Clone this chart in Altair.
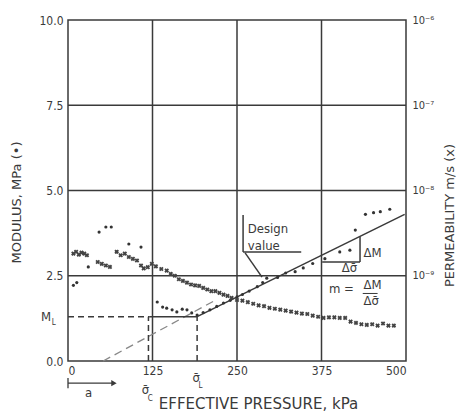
import altair as alt
import pandas as pd

# ---------------- data ----------------
# Modulus (MPa, dots) vs effective pressure (kPa)
mod_p = [8, 13, 30, 46, 56, 64, 72, 90, 108,
         132, 140, 146, 154, 161, 169, 176, 183, 191,
         200, 210, 220, 230, 240, 250, 258, 268, 280, 288, 294, 310, 322,
         336, 348, 362, 380, 402, 417, 425, 440, 452, 462, 476]
mod_v = [2.22, 2.30, 2.76, 3.78, 3.93, 3.93, 3.20, 3.43, 3.34,
         1.73, 1.58, 1.55, 1.50, 1.44, 1.52, 1.50, 1.41, 1.35,
         1.42, 1.50, 1.60, 1.70, 1.78, 1.88, 1.95, 2.05, 2.18, 2.30, 2.43, 2.45, 2.58,
         2.62, 2.73, 2.86, 3.00, 3.20, 3.25, 3.84, 4.30, 4.35, 4.38, 4.45]

# Permeability (m/s, crosses) vs effective pressure (kPa)
perm_p = [8, 12, 16, 20, 24, 28, 44, 50, 56, 62, 72, 78, 84, 90, 96, 102, 108, 112,
          118, 124, 130, 138, 146, 152, 158, 164, 170, 176, 182, 188, 194, 200, 206,
          212, 218, 224, 230, 236, 242, 250, 258, 266, 274, 282, 290, 298, 306, 314,
          322, 330, 338, 346, 354, 362, 370, 378, 386, 394, 402, 410, 418, 426, 434,
          442, 450, 458, 466, 474, 482]
perm_k = [1.82e-9, 1.91e-9, 1.77e-9, 1.87e-9, 1.82e-9, 1.74e-9, 1.45e-9, 1.38e-9,
          1.32e-9, 1.27e-9, 1.91e-9, 1.74e-9, 1.82e-9, 1.66e-9, 1.58e-9, 1.51e-9,
          1.32e-9, 1.22e-9, 1.26e-9, 1.38e-9, 1.29e-9, 1.20e-9, 1.15e-9, 1.05e-9,
          1.00e-9, 9.1e-10, 8.7e-10, 8.3e-10, 7.9e-10, 7.7e-10, 7.6e-10, 7.2e-10,
          6.9e-10, 6.6e-10, 6.6e-10, 6.3e-10, 6.0e-10, 5.8e-10, 5.5e-10, 5.2e-10,
          5.1e-10, 4.9e-10, 4.7e-10, 4.5e-10, 4.4e-10, 4.2e-10, 4.1e-10, 4.0e-10,
          3.9e-10, 3.8e-10, 3.7e-10, 3.6e-10, 3.56e-10, 3.4e-10, 3.3e-10, 3.2e-10,
          3.25e-10, 3.25e-10, 3.2e-10, 3.2e-10, 2.9e-10, 2.8e-10, 2.7e-10, 2.65e-10,
          2.7e-10, 2.6e-10, 2.75e-10, 2.6e-10, 2.6e-10]

x_ticks = [0, 125, 250, 375, 500]
y_ticks = [0.0, 2.5, 5.0, 7.5, 10.0]
perm_ticks = [1e-9, 1e-8, 1e-7, 1e-6]
grid_x = [125, 250, 375]
grid_y = [2.5, 5.0, 7.5]

M_L = 1.3
sigma_c = 119
sigma_l = 191

# design lines (x, y, x2, y2)
solid_lines = pd.DataFrame({
    "x":  [sigma_l, 121, 376, 432, 259, 259, 262],
    "y":  [M_L, M_L, 2.9, 2.9, 4.28, 3.2, 3.17],
    "x2": [498, sigma_l, 432, 432, 259, 345, 287],
    "y2": [4.30, M_L, 2.9, 3.65, 3.2, 3.2, 2.46],
})
dashed_lines = pd.DataFrame({
    "x":  [0, sigma_c, sigma_l],
    "y":  [M_L, 0, 0],
    "x2": [121, sigma_c, sigma_l],
    "y2": [M_L, M_L, M_L],
})
gray_dash = pd.DataFrame({"x": [52], "y": [0.0], "x2": [215], "y2": [1.75]})

FONT = "DejaVu Sans Condensed, Liberation Sans Narrow, DejaVu Sans"
TFONT = "DejaVu Sans"
INK = "#3a3a3a"

xs = alt.Scale(domain=[0, 500], nice=False)
ys = alt.Scale(domain=[0, 10], nice=False)

X_AXIS = alt.Axis(
    values=x_ticks, format="d", ticks=False, domain=False, grid=False,
    labelFont=FONT, labelFontSize=12, labelColor=INK, labelPadding=4,
    title="EFFECTIVE PRESSURE, kPa", titleFont=TFONT, titleFontSize=15,
    titleFontWeight="normal", titleColor=INK, titleX=190, titleY=42,
    titleBaseline="middle", titleAlign="center")
Y_AXIS = alt.Axis(
    values=y_ticks, format=".1f", ticks=False, domain=False, grid=False,
    labelFont=FONT, labelFontSize=12, labelColor=INK, labelPadding=5,
    title="MODULUS, MPa (•)", titleFont=TFONT, titleFontSize=13,
    titleFontWeight="normal", titleColor=INK, titleAngle=270,
    titleX=-52, titleY=182, titleBaseline="middle", titleAlign="center")


def X(f):
    return alt.X(f, scale=xs, axis=X_AXIS)


def Y(f):
    return alt.Y(f, scale=ys, axis=Y_AXIS)


grid_v = alt.Chart(pd.DataFrame({"g": grid_x})).mark_rule(
    color=INK, strokeWidth=1.5).encode(x=X("g:Q"))
grid_h = alt.Chart(pd.DataFrame({"g": grid_y})).mark_rule(
    color=INK, strokeWidth=1.5).encode(y=Y("g:Q"))

modulus = alt.Chart(pd.DataFrame({"p": mod_p, "m": mod_v})).mark_circle(
    size=10, color="#333", opacity=1).encode(x=X("p:Q"), y=Y("m:Q"))


def seg(df, **kw):
    return alt.Chart(df).mark_rule(**kw).encode(
        x=X("x:Q"), y=Y("y:Q"), x2="x2:Q", y2="y2:Q")


lines_solid = seg(solid_lines, color=INK, strokeWidth=1.5)
lines_dash = seg(dashed_lines, color=INK, strokeWidth=1.5, strokeDash=[6, 4])
line_gray = seg(gray_dash, color="#888", strokeWidth=1.3, strokeDash=[8, 5])

# arrow "a" under the axis
arrow = seg(pd.DataFrame({"x": [0, 0], "y": [-0.65, -0.5], "x2": [66, 0], "y2": [-0.65, -0.8]}),
            color=INK, strokeWidth=1.3)
arrow_head = alt.Chart(pd.DataFrame({"x": [68], "y": [-0.65]})).mark_point(
    shape="triangle-right", filled=True, size=40, color=INK, opacity=1).encode(
    x=X("x:Q"), y=Y("y:Q"))


def texts(df, size, align="left"):
    return alt.Chart(df).mark_text(
        font=FONT, fontSize=size, color=INK, align=align, baseline="middle").encode(
        x=X("x:Q"), y=Y("y:Q"), text="t:N")


big = pd.DataFrame({
    "x": [266, 266, 437, 405, 386, 437, 437, -40, 109, 184, 25],
    "y": [3.87, 3.37, 3.18, 2.73, 2.11, 2.22, 1.76, 1.29, -0.86, -0.5, -0.95],
    "t": ["Design", "value", "ΔM", "Δσ̄", "m =", "ΔM", "Δσ̄", "M", "σ̄", "σ̄", "a"],
})
small = pd.DataFrame({
    "x": [-24, 118, 193],
    "y": [1.1, -1.1, -0.72],
    "t": ["L", "C", "L"],
})
frac = seg(pd.DataFrame({"x": [436], "y": [1.98], "x2": [458], "y2": [1.98]}),
           color=INK, strokeWidth=1)

perm = alt.Chart(pd.DataFrame({"p": perm_p, "k": perm_k})).mark_point(
    shape="cross", angle=45, filled=True, size=22, color="#444", opacity=1).encode(
    x=X("p:Q"),
    y=alt.Y("k:Q", scale=alt.Scale(type="log", domain=[1e-10, 1e-6], nice=False),
            axis=alt.Axis(orient="right", values=perm_ticks, ticks=False, domain=False,
                          grid=False, labelFont=FONT, labelFontSize=11, labelColor=INK,
                          labelPadding=6,
                          labelExpr="datum.value < 5e-9 ? '10⁻⁹' : datum.value < 5e-8 ? '10⁻⁸' : datum.value < 5e-7 ? '10⁻⁷' : '10⁻⁶'",
                          title="PERMEABILITY    m/s (x)", titleFont=TFONT, titleFontSize=13,
                          titleFontWeight="normal", titleColor=INK, titleAngle=270,
                          titleX=43, titleY=195, titleBaseline="middle",
                          titleAlign="center")),
)

left = alt.layer(grid_v, grid_h, line_gray, lines_dash, lines_solid, frac, arrow,
                 arrow_head, modulus, texts(big, 13), texts(small, 8))

chart = alt.layer(left, perm).resolve_scale(y="independent").properties(
    width=338, height=341,
    autosize=alt.AutoSizeParams(type="none"),
    padding={"left": 60, "top": 12, "right": 50, "bottom": 51},
    background="white",
).configure_view(stroke=INK, strokeWidth=1.5)

chart.save("out.html", embed_options={"renderer": "svg", "actions": False})
